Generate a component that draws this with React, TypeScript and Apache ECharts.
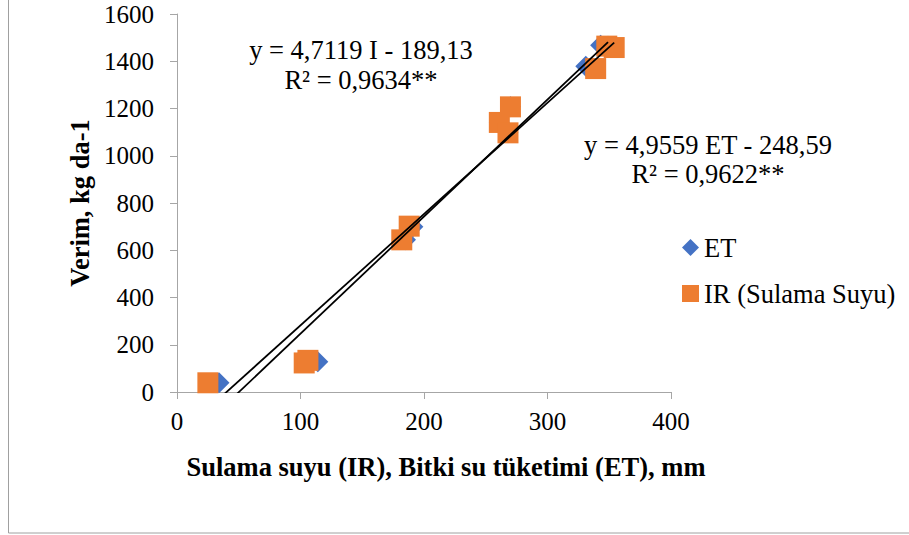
import React, { useEffect, useRef } from "react";
import * as echarts from "echarts";

const ET_X = [34, 114, 185, 191, 261, 268, 270, 331, 343, 349];
const ET_Y = [39, 128, 644, 700, 1141, 1097, 1207, 1379, 1468, 1464];
const IR_X = [25, 103, 106, 182, 188, 261, 268, 270, 339, 348, 354];
const IR_Y = [39, 123, 134, 644, 702, 1141, 1097, 1207, 1369, 1464, 1458];

const ET_FIT = { slope: 4.9559, intercept: -248.59 };
const IR_FIT = { slope: 4.7119, intercept: -189.13 };

const SERIES_NAMES = ["ET", "IR (Sulama Suyu)"];
const EQ_IR = ["y = 4,7119 I - 189,13", "R² = 0,9634**"];
const EQ_ET = ["y = 4,9559 ET - 248,59", "R² = 0,9622**"];

const X_NAME = "Sulama suyu (IR), Bitki su tüketimi (ET), mm";
const Y_NAME = "Verim, kg da-1";

const FONT = "Liberation Serif";

function pairs(xs: number[], ys: number[]) {
  return xs.map((x, i) => [x, ys[i]]);
}

function fitLine(xs: number[], fit: { slope: number; intercept: number }) {
  const lo = Math.min(...xs);
  const hi = Math.max(...xs);
  return [lo, hi].map((x) => [x, fit.slope * x + fit.intercept]);
}

export default function App() {
  const ref = useRef<HTMLDivElement>(null);

  useEffect(() => {
    if (!ref.current) return;
    const chart = echarts.init(ref.current, undefined, { renderer: "svg" });
    const axisGray = "#a6a6a6";
    const eqStyle = {
      fontFamily: FONT,
      fontSize: 26.5,
      fill: "#000",
      align: "center",
      verticalAlign: "middle",
    };
    chart.setOption({
      animation: false,
      backgroundColor: "#fff",
      textStyle: { fontFamily: FONT, color: "#000" },
      grid: { left: 177, top: 14, right: 238, bottom: 143, containLabel: false },
      legend: {
        data: SERIES_NAMES,
        orient: "vertical",
        left: 677,
        top: 229,
        itemWidth: 17,
        itemHeight: 17,
        itemGap: 19,
        textStyle: { fontFamily: FONT, fontSize: 26.5, color: "#000", lineHeight: 26 },
      },
      xAxis: {
        type: "value",
        min: 0,
        max: 400,
        interval: 100,
        splitLine: { show: false },
        axisLine: { show: true, lineStyle: { color: axisGray, width: 1 } },
        axisTick: { show: true, inside: false, length: 7, lineStyle: { color: axisGray } },
        axisLabel: {
          fontFamily: FONT,
          fontSize: 25,
          color: "#000",
          margin: 17,
          formatter: (v: number) => String(v),
        },
        name: X_NAME,
        nameLocation: "middle",
        nameGap: 61,
        nameTextStyle: {
          fontFamily: FONT,
          fontSize: 26.5,
          fontWeight: "bold",
          color: "#000",
          padding: [0, 0, 0, 44],
        },
      },
      yAxis: {
        type: "value",
        min: 0,
        max: 1600,
        interval: 200,
        splitLine: { show: false },
        axisLine: { show: true, lineStyle: { color: axisGray, width: 1 } },
        axisTick: { show: true, inside: false, length: 7, lineStyle: { color: axisGray } },
        axisLabel: {
          fontFamily: FONT,
          fontSize: 25,
          color: "#000",
          margin: 23,
          formatter: (v: number) => String(v),
        },
        name: Y_NAME,
        nameLocation: "middle",
        nameRotate: 90,
        nameGap: 83,
        nameTextStyle: { fontFamily: FONT, fontSize: 26.5, fontWeight: "bold", color: "#000" },
      },
      series: [
        {
          name: SERIES_NAMES[0],
          type: "scatter",
          symbol: "diamond",
          symbolSize: 21,
          itemStyle: { color: "#4472C4", opacity: 1 },
          data: pairs(ET_X, ET_Y),
          z: 2,
        },
        {
          name: SERIES_NAMES[1],
          type: "scatter",
          symbol: "rect",
          symbolSize: 21,
          itemStyle: { color: "#ED7D31", opacity: 1 },
          data: pairs(IR_X, IR_Y),
          z: 3,
        },
        {
          name: "ET trend",
          type: "line",
          data: fitLine(ET_X, ET_FIT),
          showSymbol: false,
          symbol: "none",
          clip: true,
          lineStyle: { color: "#000", width: 1.75 },
          z: 4,
        },
        {
          name: "IR trend",
          type: "line",
          data: fitLine(IR_X, IR_FIT),
          showSymbol: false,
          symbol: "none",
          clip: true,
          lineStyle: { color: "#000", width: 1.75 },
          z: 4,
        },
      ],
      graphic: [
        {
          type: "rect",
          shape: { x: 8.5, y: -10, width: 1000, height: 543 },
          style: { fill: "none", stroke: "#a0a0a0", lineWidth: 1 },
          silent: true,
          z: 0,
        },
        { type: "text", x: 361, y: 50, style: { ...eqStyle, text: EQ_IR[0] }, z: 10 },
        { type: "text", x: 361, y: 80, style: { ...eqStyle, text: EQ_IR[1] }, z: 10 },
        { type: "text", x: 708, y: 145, style: { ...eqStyle, text: EQ_ET[0] }, z: 10 },
        { type: "text", x: 708, y: 174, style: { ...eqStyle, text: EQ_ET[1] }, z: 10 },
      ],
    });
    return () => chart.dispose();
  }, []);

  return (
    <div
      ref={ref}
      style={{ position: "fixed", left: 0, top: 0, width: 909, height: 535, background: "#fff" }}
    />
  );
}
